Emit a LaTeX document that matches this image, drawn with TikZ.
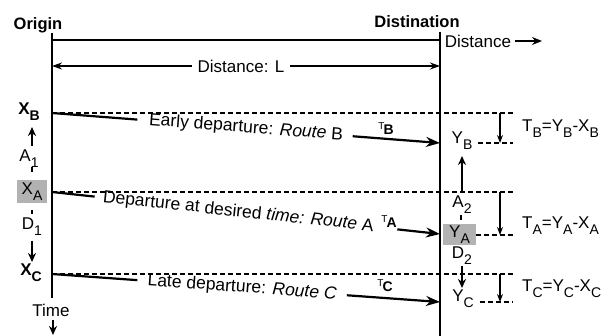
\documentclass[tikz,border=0pt]{standalone}
\usepackage{fontspec}
\setmainfont{Liberation Sans}
\usetikzlibrary{arrows.meta,calc}

% lowered index letter
\newcommand{\lw}[1]{\raisebox{-0.65ex}{\fontsize{14}{14}\selectfont #1}}
% small route label: raised T followed by a bold letter
\newcommand{\rtlabel}[1]{\raisebox{5pt}{\fontsize{10}{10}\selectfont T}\kern-1pt{\fontsize{14}{14}\selectfont\bfseries #1}}

\begin{document}
\begin{tikzpicture}[x=1pt,y=-1pt,
  every node/.style={inner sep=0pt, font=\fontsize{17}{19}\selectfont},
  axis/.style={line width=2.4pt},
  level/.style={line width=1.1pt, dash pattern=on 5pt off 3pt},
  route/.style={line width=2.2pt},
  routehead/.style={route, -{Stealth[length=14pt,width=10pt]}},
  marker/.style={line width=2.2pt, -{Stealth[length=9pt,width=8pt]}},
  span/.style={line width=1.2pt, -{Stealth[length=8pt,width=6pt]}},
  dim/.style={line width=1.5pt, {Stealth[length=10pt,width=7pt]}-{Stealth[length=10pt,width=7pt]}},
  hilite/.style={fill=black!30, minimum width=30pt, minimum height=23pt},
  title/.style={font=\fontsize{16.5}{18}\selectfont\bfseries},
  routetext/.style={sloped, font=\fontsize{17.5}{19}\selectfont},
  tick/.style={line width=1.8pt},
]
\useasboundingbox (0,0) rectangle (614,336);

% ---- titles and axes ----
\node[title] (org) at (38,25) {Origin};
\node[title] (dst) at (417,22) {Distination};

\coordinate (o1) at (52,33);  \coordinate (o2) at (52,298);
\coordinate (d1) at (440,32); \coordinate (d2) at (440,336);
\coordinate (t1) at (52,40);  \coordinate (t2) at (440,40);
\draw[axis] (o1) -- (o2);
\draw[line width=2pt] (d1) -- (d2);
\draw[line width=1.3pt] (t1) -- (t2);

\node (dist) at (478,41) {Distance};
\coordinate (da) at (542,41);
\draw[line width=1.5pt, -{Stealth[length=10pt,width=8pt]}] ([xshift=4pt]dist.east) -- (da);

% distance L between origin and destination
\coordinate (dl1) at (52,66); \coordinate (dl2) at (440,66);
\draw[dim] (dl1) -- (dl2);
\node[fill=white, inner xsep=6pt, inner ysep=2pt] (dl) at (241,66) {Distance: L};

% ---- departure / arrival levels ----
\coordinate (xb) at (52,113);  \coordinate (xbr) at (513,113);
\coordinate (xa) at (52,192);  \coordinate (xar) at (513,192);
\coordinate (xc) at (52,274);  \coordinate (xcr) at (513,274);
\coordinate (yb) at (440,143); \coordinate (ybl) at (478,143); \coordinate (ybr) at (513,143);
\coordinate (ya) at (440,234); \coordinate (yal) at (476,235); \coordinate (yar) at (513,235);
\coordinate (yc) at (440,302); \coordinate (ycl) at (480,302); \coordinate (ycr) at (513,302);

\draw[level] (xb) -- (xbr);
\draw[level] (xa) -- (xar);
\draw[level] (xc) -- (xcr);
\draw[level] (ybl) -- (ybr);
\draw[level] (yal) -- (yar);
\draw[level] (ycl) -- (ycr);

% travel-time spans
\coordinate (sb1) at (500,113); \coordinate (sb2) at (500,143);
\coordinate (sa1) at (500,192); \coordinate (sa2) at (500,235);
\coordinate (sc1) at (500,274); \coordinate (sc2) at (500,302);
\draw[span] (sb1) -- (sb2);
\draw[span] (sa1) -- (sa2);
\draw[span] (sc1) -- (sc2);

% ---- routes ----
\draw[route] (xb) -- ($(xb)!0.22!(yb)$);
\draw[routehead] ($(xb)!0.775!(yb)$) -- (yb);
\path (xb) -- (yb) node[routetext, pos=0.5] (rb) {Early departure: \textit{Route} B};

\draw[route] (xa) -- ($(xa)!0.11!(ya)$);
\draw[routehead] ($(xa)!0.89!(ya)$) -- (ya);
\path (xa) -- (ya) node[routetext, pos=0.48] (ra) {Departure at desired \textit{time: Route} A};

\draw[route] (xc) -- ($(xc)!0.22!(yc)$);
\draw[routehead] ($(xc)!0.76!(yc)$) -- (yc);
\path (xc) -- (yc) node[routetext, pos=0.49] (rc) {Late departure: \textit{Route C}};

\node (tb) at (386,129) {\rtlabel{B}};
\node (ta) at (389,222) {\rtlabel{A}};
\node (tc) at (385,286) {\rtlabel{C}};

% ---- origin side labels ----
\node[font=\fontsize{17}{19}\selectfont\bfseries] (lxb) at (29,112) {X\lw{B}};
\node (la1) at (29,159) {A\lw{1}};
\node[hilite] (lxa) at (32,191.5) {X\lw{A}};
\node (ld1) at (32,227) {D\lw{1}};
\node[font=\fontsize{17}{19}\selectfont\bfseries] (lxc) at (31,273) {X\lw{C}};
\node (time) at (51,310) {Time};

\coordinate (ua1) at (32,146); \coordinate (ua2) at (32,127);
\coordinate (da1) at (32,241); \coordinate (da2) at (32,262);
\coordinate (ta1) at (53,320); \coordinate (ta2) at (53,335);
\draw[marker] (ua1) -- (ua2);
\draw[marker] (da1) -- (da2);
\draw[marker] (ta1) -- (ta2);

\coordinate (k1a) at (32,167); \coordinate (k1b) at (32,172);
\coordinate (k2a) at (32,210); \coordinate (k2b) at (32,214);
\draw[tick] (k1a) -- (k1b);
\draw[tick] (k2a) -- (k2b);

% ---- destination side labels ----
\node (lyb) at (462,141) {Y\lw{B}};
\node (la2) at (462,205) {A\lw{2}};
\node[hilite, minimum width=33pt, minimum height=21pt] (lya) at (459.5,234.5) {\raisebox{2pt}{Y\lw{A}}};
\node (ld2) at (462,256) {D\lw{2}};
\node (lyc) at (463,299) {Y\lw{C}};

\coordinate (ub1) at (462,192); \coordinate (ub2) at (462,156);
\coordinate (db1) at (462,266); \coordinate (db2) at (462,288);
\draw[marker] (ub1) -- (ub2);
\draw[marker] (db1) -- (db2);

\coordinate (k3a) at (461,215); \coordinate (k3b) at (461,220);
\draw[tick] (k3a) -- (k3b);

% ---- travel time formulas ----
\node[anchor=west] (fb) at (522,129) {T\lw{B}=Y\lw{B}-X\lw{B}};
\node[anchor=west] (fa) at (522,226) {T\lw{A}=Y\lw{A}-X\lw{A}};
\node[anchor=west] (fc) at (522,289) {T\lw{C}=Y\lw{C}-X\lw{C}};
\end{tikzpicture}
\end{document}
